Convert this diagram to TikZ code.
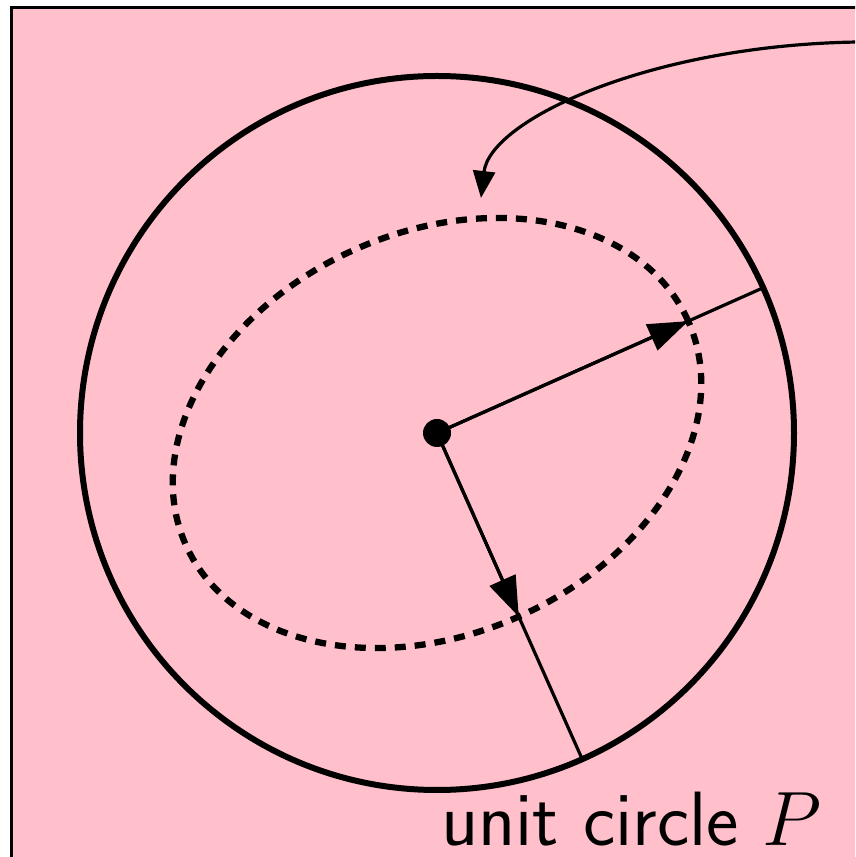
\RequirePackage{fix-cm}
\documentclass[tikz,border=0pt]{standalone}
\usepackage{fontspec}
\usetikzlibrary{arrows.meta,calc}
\definecolor{pinkbg}{RGB}{255,192,203}
\tikzset{
  frame/.style={fill=pinkbg,draw=black,line width=3pt},
  unitcircle/.style={draw=black,line width=6pt},
  dottedell/.style={draw=black,line width=6.3pt,dash pattern=on 11pt off 9pt},
  radiusline/.style={draw=black,line width=3.2pt},
  radiusarrow/.style={draw=black,line width=3.2pt,-{Triangle[length=40pt,width=28pt]}},
  curvearrow/.style={draw=black,line width=3.2pt,-{Triangle[length=27pt,width=22pt]}},
  label/.style={font=\fontsize{77}{84}\selectfont\sffamily,inner sep=0pt,anchor=base west}
}
\begin{document}
\begin{tikzpicture}[x=1pt,y=1pt]
\useasboundingbox (0,0) rectangle (855,857);
\clip (0,0) rectangle (855,857);
\draw[frame] (11,849) rectangle (880,-30);
\coordinate (C) at (437,424);
\coordinate (A1) at ($(C)+(24:357)$);
\coordinate (T1) at ($(C)+(24:275)$);
\coordinate (A2) at ($(C)+(-66:357)$);
\coordinate (T2) at ($(C)+(-66:201)$);
\coordinate (S) at (858,815);
\coordinate (E) at (481,659);
\draw[unitcircle] (C) circle [radius=357];
\draw[dottedell,rotate around={24:(C)}] (C) ellipse [x radius=275, y radius=201];
\draw[radiusline] (C) -- (A1);
\draw[radiusline] (C) -- (A2);
\draw[radiusarrow] (C) -- (T1);
\draw[radiusarrow] (C) -- (T2);
\fill[black] (C) circle [radius=14];
\draw[curvearrow] (S) .. controls (650,812) and (490,737) .. (E);
\node[label] (lbl) at (441,12) {unit circle $P$};
\end{tikzpicture}
\end{document}
